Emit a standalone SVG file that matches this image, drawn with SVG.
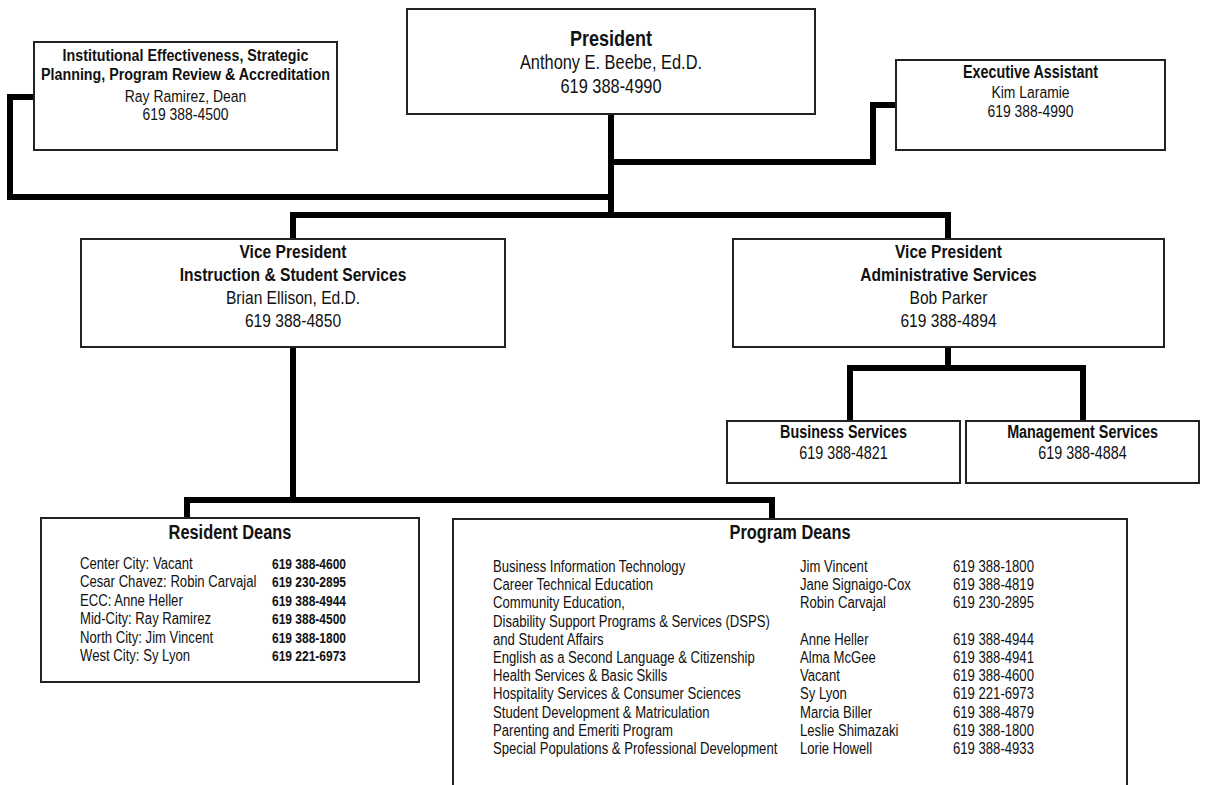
<svg xmlns="http://www.w3.org/2000/svg" width="1205" height="785" viewBox="0 0 1205 785">
<style>
text{font-family:"Liberation Sans Narrow","Arial Narrow","Liberation Sans",sans-serif;fill:#111;}
.box{fill:#fff;stroke:#222;stroke-width:2;}
.c{text-anchor:middle;}
.b{font-weight:bold;}
.conn{fill:none;stroke:#000;stroke-width:6;stroke-linejoin:miter;stroke-linecap:butt;}
.f15{font-size:15px;}
.f16{font-size:16px;}
.f17{font-size:17px;}
.f175{font-size:17.5px;}
.f19{font-size:19px;}
.f20{font-size:20px;}
.f22{font-size:22px;}
</style>
<rect width="1205" height="785" fill="#fff"/>
<g id="connectors">
<path class="conn" d="M34,97 H10 V197 H611"/>
<path class="conn" d="M611,114 V218"/>
<path class="conn" d="M611,162 H873 V105 H896"/>
<path class="conn" d="M293,239 V215 H948 V239"/>
<path class="conn" d="M293,347 V500"/>
<path class="conn" d="M187,518 V500 H772 V519"/>
<path class="conn" d="M948,347 V368"/>
<path class="conn" d="M850,421 V368 H1083 V421"/>
</g>
<g id="ie">
<rect class="box" x="34" y="42" width="303" height="108"/>
<text class="c b f17" transform="translate(185.5,61) scale(.84,1)">Institutional Effectiveness, Strategic</text>
<text class="c b f17" transform="translate(185.5,80) scale(.84,1)">Planning, Program Review &amp; Accreditation</text>
<text class="c f17" transform="translate(185.5,102) scale(.82,1)">Ray Ramirez, Dean</text>
<text class="c f17" transform="translate(185.5,120) scale(.82,1)">619 388-4500</text>
</g>
<g id="president">
<rect class="box" x="407" y="9" width="408" height="105"/>
<text class="c b f22" transform="translate(611,46) scale(.82,1)">President</text>
<text class="c f20" transform="translate(611,69) scale(.82,1)">Anthony E. Beebe, Ed.D.</text>
<text class="c f20" transform="translate(611,93) scale(.82,1)">619 388-4990</text>
</g>
<g id="exec">
<rect class="box" x="896" y="60" width="269" height="90"/>
<text class="c b f175" transform="translate(1030.5,78) scale(.82,1)">Executive Assistant</text>
<text class="c f17" transform="translate(1030.5,98) scale(.82,1)">Kim Laramie</text>
<text class="c f17" transform="translate(1030.5,117) scale(.82,1)">619 388-4990</text>
</g>
<g id="vp-instruction">
<rect class="box" x="81" y="239" width="424" height="108"/>
<text class="c b f19" transform="translate(293,258) scale(.82,1)">Vice President</text>
<text class="c b f19" transform="translate(293,281) scale(.82,1)">Instruction &amp; Student Services</text>
<text class="c f19" transform="translate(293,304) scale(.82,1)">Brian Ellison, Ed.D.</text>
<text class="c f19" transform="translate(293,327) scale(.82,1)">619 388-4850</text>
</g>
<g id="vp-admin">
<rect class="box" x="733" y="239" width="431" height="108"/>
<text class="c b f19" transform="translate(948.5,258) scale(.82,1)">Vice President</text>
<text class="c b f19" transform="translate(948.5,281) scale(.82,1)">Administrative Services</text>
<text class="c f19" transform="translate(948.5,304) scale(.82,1)">Bob Parker</text>
<text class="c f19" transform="translate(948.5,327) scale(.82,1)">619 388-4894</text>
</g>
<g id="business">
<rect class="box" x="727" y="421" width="233" height="62"/>
<text class="c b f175" transform="translate(843.5,438) scale(.82,1)">Business Services</text>
<text class="c f175" transform="translate(843.5,459) scale(.82,1)">619 388-4821</text>
</g>
<g id="management">
<rect class="box" x="966" y="421" width="233" height="62"/>
<text class="c b f175" transform="translate(1082.5,438) scale(.82,1)">Management Services</text>
<text class="c f175" transform="translate(1082.5,459) scale(.82,1)">619 388-4884</text>
</g>
<g id="resident-deans">
<rect class="box" x="41" y="518" width="378" height="164"/>
<text class="c b f20" transform="translate(230,539) scale(.82,1)">Resident Deans</text>
<g class="f16">
<text transform="translate(80,569) scale(.82,1)">Center City: Vacant</text>
<text transform="translate(80,587) scale(.82,1)">Cesar Chavez: Robin Carvajal</text>
<text transform="translate(80,606) scale(.82,1)">ECC: Anne Heller</text>
<text transform="translate(80,624) scale(.82,1)">Mid-City: Ray Ramirez</text>
<text transform="translate(80,643) scale(.82,1)">North City: Jim Vincent</text>
<text transform="translate(80,661) scale(.82,1)">West City: Sy Lyon</text>
</g>
<g class="f15 b">
<text transform="translate(272,569) scale(.8,1)">619 388-4600</text>
<text transform="translate(272,587) scale(.8,1)">619 230-2895</text>
<text transform="translate(272,606) scale(.8,1)">619 388-4944</text>
<text transform="translate(272,624) scale(.8,1)">619 388-4500</text>
<text transform="translate(272,643) scale(.8,1)">619 388-1800</text>
<text transform="translate(272,661) scale(.8,1)">619 221-6973</text>
</g>
</g>
<g id="program-deans">
<rect class="box" x="453" y="519" width="674" height="280"/>
<text class="c b f20" transform="translate(790,539) scale(.82,1)">Program Deans</text>
<g class="f16">
<text transform="translate(493,572) scale(.82,1)">Business Information Technology</text>
<text transform="translate(493,590) scale(.82,1)">Career Technical Education</text>
<text transform="translate(493,608) scale(.82,1)">Community Education,</text>
<text transform="translate(493,627) scale(.82,1)">Disability Support Programs &amp; Services (DSPS)</text>
<text transform="translate(493,645) scale(.82,1)">and Student Affairs</text>
<text transform="translate(493,663) scale(.82,1)">English as a Second Language &amp; Citizenship</text>
<text transform="translate(493,681) scale(.82,1)">Health Services &amp; Basic Skills</text>
<text transform="translate(493,699) scale(.82,1)">Hospitality Services &amp; Consumer Sciences</text>
<text transform="translate(493,718) scale(.82,1)">Student Development &amp; Matriculation</text>
<text transform="translate(493,736) scale(.82,1)">Parenting and Emeriti Program</text>
<text transform="translate(493,754) scale(.82,1)">Special Populations &amp; Professional Development</text>
<text transform="translate(800,572) scale(.82,1)">Jim Vincent</text>
<text transform="translate(800,590) scale(.82,1)">Jane Signaigo-Cox</text>
<text transform="translate(800,608) scale(.82,1)">Robin Carvajal</text>
<text transform="translate(800,645) scale(.82,1)">Anne Heller</text>
<text transform="translate(800,663) scale(.82,1)">Alma McGee</text>
<text transform="translate(800,681) scale(.82,1)">Vacant</text>
<text transform="translate(800,699) scale(.82,1)">Sy Lyon</text>
<text transform="translate(800,718) scale(.82,1)">Marcia Biller</text>
<text transform="translate(800,736) scale(.82,1)">Leslie Shimazaki</text>
<text transform="translate(800,754) scale(.82,1)">Lorie Howell</text>
<text transform="translate(953,572) scale(.82,1)">619 388-1800</text>
<text transform="translate(953,590) scale(.82,1)">619 388-4819</text>
<text transform="translate(953,608) scale(.82,1)">619 230-2895</text>
<text transform="translate(953,645) scale(.82,1)">619 388-4944</text>
<text transform="translate(953,663) scale(.82,1)">619 388-4941</text>
<text transform="translate(953,681) scale(.82,1)">619 388-4600</text>
<text transform="translate(953,699) scale(.82,1)">619 221-6973</text>
<text transform="translate(953,718) scale(.82,1)">619 388-4879</text>
<text transform="translate(953,736) scale(.82,1)">619 388-1800</text>
<text transform="translate(953,754) scale(.82,1)">619 388-4933</text>
</g>
</g>
</svg>
